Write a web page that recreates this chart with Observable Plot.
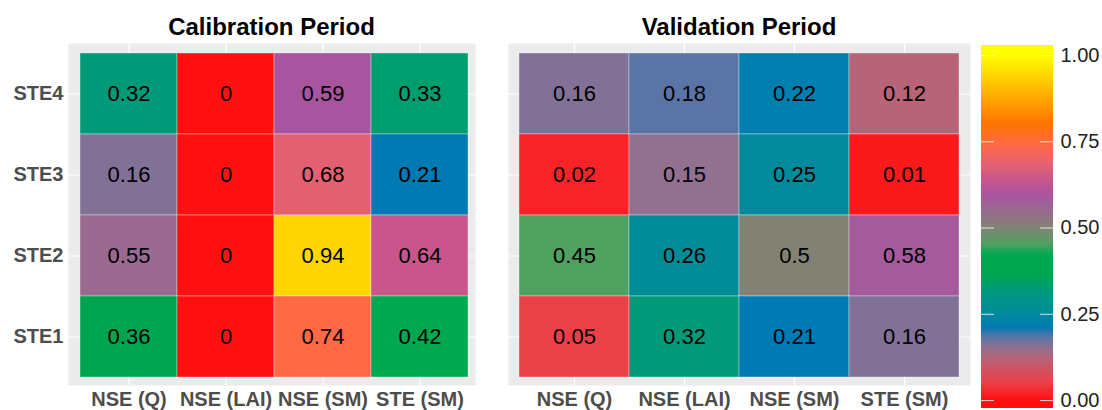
<!DOCTYPE html>
<html>
<head>
<meta charset="utf-8">
<script src="https://cdn.jsdelivr.net/npm/d3@7"></script>
<script src="https://cdn.jsdelivr.net/npm/@observablehq/plot@0.6"></script>
<style>
  html, body { margin: 0; padding: 0; background: #fff; }
  #wrap { position: relative; width: 1102px; height: 410px; overflow: hidden; font-family: "Liberation Sans", Arial, sans-serif; }
  .panel { position: absolute; top: 0; }
  .title { position: absolute; top: 13px; font: bold 24px "Liberation Sans", Arial, sans-serif; color: #000; text-align: center; }
</style>
</head>
<body>
<div id="wrap">
  <div class="panel" id="p1" style="left:0px;"></div>
  <div class="panel" id="p2" style="left:480px;"></div>
  <div class="panel" id="leg" style="left:970px;"></div>
  <div class="title" style="left:68px;width:407px;">Calibration Period</div>
  <div class="title" style="left:508px;width:462px;">Validation Period</div>
</div>
<script>
const metrics = ["NSE (Q)", "NSE (LAI)", "NSE (SM)", "STE (SM)"];
const stes = ["STE4", "STE3", "STE2", "STE1"];
// rows in order of stes, columns in order of metrics
const calibration = [
  [0.32, 0, 0.59, 0.33],
  [0.16, 0, 0.68, 0.21],
  [0.55, 0, 0.94, 0.64],
  [0.36, 0, 0.74, 0.42]
];
const validation = [
  [0.16, 0.18, 0.22, 0.12],
  [0.02, 0.15, 0.25, 0.01],
  [0.45, 0.26, 0.5, 0.58],
  [0.05, 0.32, 0.21, 0.16]
];
const legendTicks = [0, 0.25, 0.5, 0.75, 1];
const colorStops = [0, 0.05, 0.12, 0.15, 0.165, 0.185, 0.21, 0.25, 0.32, 0.36, 0.42, 0.45, 0.5, 0.55, 0.59, 0.64, 0.68, 0.74, 0.8, 0.94, 1];
const colorRange = ["#ff1010", "#ea4048", "#b86478", "#927090", "#78729a", "#5076a8", "#007ab2", "#008a9c", "#009a78", "#00a450", "#00a850", "#50a060", "#828274", "#9a6a90", "#a855a0", "#c8568a", "#e26072", "#ff6a45", "#ff7400", "#ffd600", "#ffff00"];

const FONT = "'Liberation Sans', Arial, sans-serif";
const colorScale = {type: "linear", domain: colorStops, range: colorRange, interpolate: "rgb", clamp: true};

function toRows(matrix) {
  const rows = [];
  stes.forEach((s, i) => metrics.forEach((m, j) => rows.push({ste: s, metric: m, value: matrix[i][j]})));
  return rows;
}

function heatmap(matrix, opts) {
  const data = toRows(matrix);
  return Plot.plot({
    width: opts.width,
    height: 410,
    marginLeft: opts.marginLeft,
    marginRight: opts.marginRight,
    marginTop: 43,
    marginBottom: 25,
    style: {fontFamily: FONT, background: "transparent", overflow: "visible"},
    x: {type: "band", domain: metrics, padding: 0, insetLeft: opts.insetLeft, insetRight: opts.insetRight, label: null},
    y: {type: "band", domain: stes, padding: 0, insetTop: 9, insetBottom: 7, label: null},
    color: colorScale,
    marks: [
      Plot.frame({fill: "#ebebeb", stroke: null}),
      Plot.gridX({stroke: "white", strokeOpacity: 1, strokeWidth: 1.2}),
      Plot.gridY({stroke: "white", strokeOpacity: 1, strokeWidth: 1.2}),
      Plot.cell(data, {x: "metric", y: "ste", fill: "value", stroke: "white", strokeOpacity: 0.35, strokeWidth: 1}),
      Plot.text(data, {x: "metric", y: "ste", text: d => String(d.value), fill: "black", fontSize: 22, fontFamily: FONT}),
      Plot.axisX({anchor: "bottom", tickSize: 0, tickPadding: 6, fontSize: 20, fontWeight: "bold", fill: "#4d4d4d", label: null}),
      opts.showY
        ? Plot.axisY({anchor: "left", tickSize: 0, tickPadding: 5, fontSize: 20, fontWeight: "bold", fill: "#4d4d4d", label: null})
        : Plot.axisY({anchor: "left", ticks: [], label: null})
    ]
  });
}

document.getElementById("p1").appendChild(heatmap(calibration, {width: 480, marginLeft: 68, marginRight: 5, insetLeft: 10, insetRight: 6, showY: true}));
document.getElementById("p2").appendChild(heatmap(validation, {width: 500, marginLeft: 28, marginRight: 10, insetLeft: 11, insetRight: 11, showY: false}));

// legend (vertical colour bar)
const lo = -0.023, hi = 1.029, step = 0.002;
const strips = d3.range(lo, hi, step);
const legend = Plot.plot({
  width: 132,
  height: 410,
  marginLeft: 11,
  marginRight: 49,
  marginTop: 45,
  marginBottom: 2,
  style: {fontFamily: FONT, background: "transparent", overflow: "visible"},
  x: {domain: [0, 1], axis: null},
  y: {domain: [lo, hi], label: null},
  color: colorScale,
  marks: [
    Plot.rect(strips, {x1: 0, x2: 1, y1: d => d, y2: d => Math.min(hi, d + step * 2), fill: d => Math.max(0, Math.min(1, d)), shapeRendering: "crispEdges"}),
    Plot.ruleY(legendTicks, {x1: 0, x2: 0.18, stroke: "white", strokeOpacity: 0.8, strokeWidth: 1}),
    Plot.ruleY(legendTicks, {x1: 0.82, x2: 1, stroke: "white", strokeOpacity: 0.8, strokeWidth: 1}),
    Plot.axisY({anchor: "right", ticks: legendTicks, tickFormat: d3.format(".2f"), tickSize: 0, tickPadding: 7, fontSize: 20, fill: "#222", label: null})
  ]
});
document.getElementById("leg").appendChild(legend);
</script>
</body>
</html>
